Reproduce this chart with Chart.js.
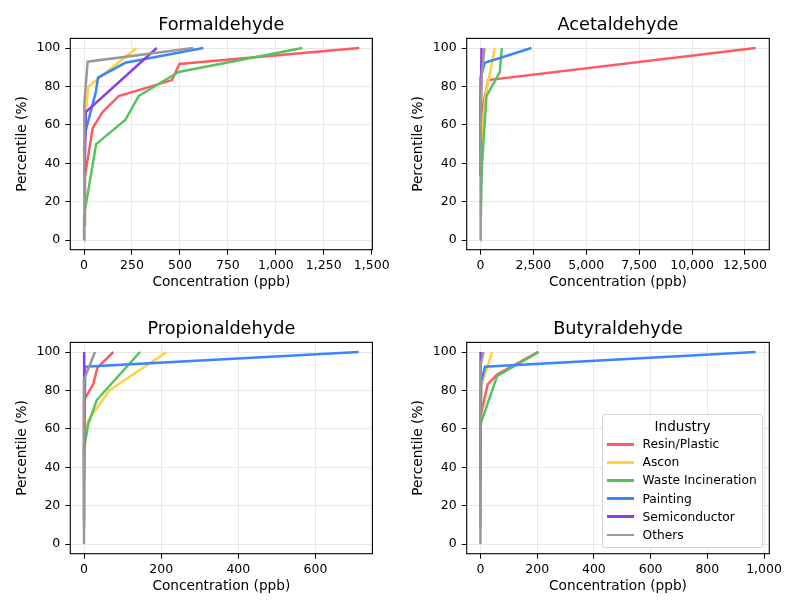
<!DOCTYPE html>
<html><head><meta charset="utf-8">
<script src="https://cdn.jsdelivr.net/npm/chart.js@4.4.1/dist/chart.umd.min.js"></script>
<style>
html,body{margin:0;padding:0;background:#fff;}
#wrap{position:relative;width:800px;height:612px;overflow:hidden;}
canvas{position:absolute;}
#legend{position:absolute;left:602px;top:414px;width:159px;height:132px;border:1px solid #d3d3d3;border-radius:3px;background:rgba(255,255,255,0.85);font-family:'DejaVu Sans',sans-serif;color:#000;}
#legend .t{position:absolute;left:0;right:0;text-align:center;font-size:13.6px;line-height:16px;}
#legend .h{position:absolute;height:2.5px;width:27px;left:4px;}
#legend .l{position:absolute;left:39.5px;font-size:12.25px;line-height:14px;white-space:nowrap;}
</style></head><body>
<div id="wrap">
<canvas id="c0" width="400" height="306" style="left:0;top:0"></canvas>
<canvas id="c1" width="400" height="306" style="left:396px;top:0"></canvas>
<canvas id="c2" width="400" height="306" style="left:0;top:304px"></canvas>
<canvas id="c3" width="400" height="306" style="left:396px;top:304px"></canvas>
<div id="legend"></div>
</div>
<script>
const industries = ['Resin/Plastic','Ascon','Waste Incineration','Painting','Semiconductor','Others'];
const lineColors = ['#FF5A5F','#FFD23F','#55C45F','#3A86FF','#8A3FE8','#999999'];

const yTicks = [0,20,40,60,80,100];
const formTicks = [0,250,500,750,1000,1250,1500];
const acetTicks = [0,2500,5000,7500,10000,12500];
const propTicks = [0,200,400,600];
const butyTicks = [0,200,400,600,800,1000];

const formConc = [
  [1, 5, 45, 97, 181, 459, 497, 1435],
  [0, 9, 23, 274],
  [0, 0, 63, 215, 285, 493, 1138],
  [0, 9, 61, 73, 215, 622],
  [3, 9, 379],
  [0, 0, 3.5, 19, 570]
];
const formPct = [
  [8.3, 33.3, 58.3, 66.7, 75, 83.3, 91.7, 100],
  [60, 66.7, 80, 100],
  [0, 12.5, 50, 62.5, 75, 87.5, 100],
  [46.2, 57.1, 76.9, 84.6, 92.3, 100],
  [33.3, 66.7, 100],
  [0, 57.1, 71.4, 92.9, 100]
];

const acetConc = [
  [0, 60, 362, 13000],
  [10, 95, 236, 678],
  [20, 63, 284, 915, 1010],
  [0, 5, 205, 2410],
  [0, 10, 50],
  [0, 10, 60, 190]
];
const acetPct = [
  [33.3, 66.7, 83.3, 100],
  [25, 57.1, 75, 100],
  [12.5, 37.5, 75, 87.5, 100],
  [46.2, 84.6, 92.3, 100],
  [33.3, 66.7, 100],
  [0, 57.1, 85.7, 100]
];

const propConc = [
  [0, 0, 24, 34.5, 76],
  [0, 4, 11, 65.5, 214],
  [0, 0, 11, 33, 145],
  [0, 3, 712],
  [0, 0, 0.5],
  [0, 0, 28.4]
];
const propPct = [
  [8.3, 75, 83.3, 91.7, 100],
  [40, 60, 64.5, 80, 100],
  [12.5, 50, 62.5, 75, 100],
  [46.2, 92.3, 100],
  [33.3, 66.7, 100],
  [0, 85.7, 100]
];

const butyConc = [
  [0, 0, 26, 59, 202],
  [0, 2.4, 41],
  [0, 0, 59, 206],
  [0, 2.4, 16.5, 970],
  [0, 0, 1],
  [0, 0, 10.6]
];
const butyPct = [
  [8.3, 66.7, 83.3, 88.3, 100],
  [40, 81.9, 100],
  [12.5, 62.5, 87.5, 100],
  [46.2, 84.6, 92.3, 100],
  [33.3, 66.7, 100],
  [0, 92.9, 100]
];

const FONT = "'DejaVu Sans', sans-serif";

const framePlugin = {
  id: 'frame',
  afterDatasetsDraw(chart) {
    const {ctx, chartArea: a} = chart;
    ctx.save();
    ctx.strokeStyle = '#000';
    ctx.lineWidth = 1.1;
    ctx.strokeRect(a.left, a.top, a.right - a.left, a.bottom - a.top);
    ctx.restore();
  }
};

function makeChart(id, title, conc, pct, xTicks, xMin, xMax, lay) {
  const datasets = industries.map((name, i) => ({
    label: name,
    data: conc[i].map((x, j) => ({x: x, y: pct[i][j]})),
    borderColor: lineColors[i],
    backgroundColor: lineColors[i],
    borderWidth: 2.5,
    pointRadius: 0,
    pointHoverRadius: 0,
    showLine: true,
    fill: false,
    tension: 0,
    order: industries.length - 1 - i
  }));
  const axisFont = {family: FONT, size: 12.5};
  const labelFont = {family: FONT, size: 13.7};
  return new Chart(document.getElementById(id), {
    type: 'scatter',
    data: {datasets},
    options: {
      responsive: false,
      animation: false,
      devicePixelRatio: 1,
      layout: {padding: {left: 0, right: lay.right, top: 0, bottom: 15}},
      plugins: {
        legend: {display: false},
        tooltip: {enabled: false},
        title: {
          display: true, text: title, color: '#000', fullSize: false,
          font: {family: FONT, size: 17.7, weight: 'normal'},
          padding: {top: 14.3, bottom: 2.86}
        }
      },
      scales: {
        x: {
          type: 'linear', min: xMin, max: xMax,
          afterBuildTicks: s => { s.ticks = xTicks.map(v => ({value: v})); },
          afterFit: s => { s.height = 41.3; },
          ticks: {font: axisFont, color: '#000', padding: 3.2, maxRotation: 0, autoSkip: false,
                  callback: v => Number(v).toLocaleString('en-US')},
          grid: {color: '#e8e8e8', lineWidth: 1, tickLength: 5, tickColor: '#000', tickWidth: 1},
          border: {display: false},
          title: {display: true, text: 'Concentration (ppb)', font: labelFont, color: '#000', padding: {top: 0, bottom: 0}}
        },
        y: {
          type: 'linear', min: -5, max: 105,
          afterBuildTicks: s => { s.ticks = yTicks.map(v => ({value: v})); },
          afterFit: s => { s.width = lay.yw; },
          ticks: {font: axisFont, color: '#000', padding: 5},
          grid: {color: '#e8e8e8', lineWidth: 1, tickLength: 5, tickColor: '#000', tickWidth: 1},
          border: {display: false},
          title: {display: true, text: 'Percentile (%)', font: labelFont, color: '#000', padding: {top: lay.yt, bottom: 0}}
        }
      }
    },
    plugins: [framePlugin]
  });
}

const leftLay = {right: 27.6, yw: 70.3, yt: 13.8};
const rightLay = {right: 26.7, yw: 70.7, yt: 14.2};
makeChart('c0', 'Formaldehyde', formConc, formPct, formTicks, -71.6, 1503.6, leftLay);
makeChart('c1', 'Acetaldehyde', acetConc, acetPct, acetTicks, -650, 13650, rightLay);
makeChart('c2', 'Propionaldehyde', propConc, propPct, propTicks, -35.6, 747.6, leftLay);
makeChart('c3', 'Butyraldehyde', butyConc, butyPct, butyTicks, -48.5, 1018.5, rightLay);

// HTML legend built from the industries list
const lg = document.getElementById('legend');
const t = document.createElement('div');
t.className = 't'; t.textContent = 'Industry'; t.style.top = (11.7 - 1 - 8) + 'px';
lg.appendChild(t);
const rows = [30.3, 48.3, 66.3, 84.5, 102.7, 121];
industries.forEach((name, i) => {
  const h = document.createElement('div');
  h.className = 'h'; h.style.background = lineColors[i]; h.style.top = (rows[i] - 1 - 1.25) + 'px';
  lg.appendChild(h);
  const l = document.createElement('div');
  l.className = 'l'; l.textContent = name; l.style.top = (rows[i] - 1 - 7) + 'px';
  lg.appendChild(l);
});
</script>
</body></html>
